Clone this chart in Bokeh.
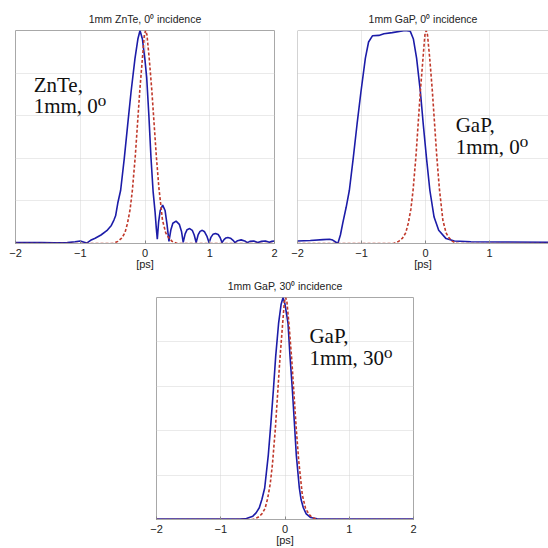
from bokeh.plotting import figure
from bokeh.models import Range1d, FixedTicker, Label, Span, Spacer
from bokeh.layouts import row, column
from bokeh.embed import file_html
from bokeh.resources import INLINE

# ---- data (time in ps, normalized amplitude) ----
znte_t = [-2.00, -1.80, -1.60, -1.40, -1.20, -1.08, -1.00, -0.94, -0.90, -0.84, -0.77, -0.68,
          -0.59, -0.52, -0.48, -0.454, -0.42, -0.376, -0.32, -0.268, -0.216, -0.155, -0.11, -0.077,
          -0.04, 0.0, 0.026, 0.06, 0.093, 0.125, 0.155, 0.175, 0.19,
          0.21, 0.235, 0.273, 0.31, 0.34, 0.37,
          0.40, 0.43, 0.48, 0.53, 0.565, 0.59,
          0.62, 0.65, 0.69, 0.73, 0.76, 0.79,
          0.82, 0.85, 0.885, 0.92, 0.955, 0.99,
          1.02, 1.05, 1.09, 1.13, 1.16, 1.19,
          1.22, 1.25, 1.28, 1.32, 1.36, 1.39,
          1.43, 1.485, 1.54, 1.58, 1.62, 1.68, 1.74, 1.80, 1.86, 1.92, 1.96, 2.00]
znte_v = [0.004, 0.005, 0.004, 0.003, 0.004, 0.008, 0.012, 0.006, 0.002, 0.015, 0.025, 0.040,
          0.060, 0.085, 0.110, 0.130, 0.190, 0.250, 0.400, 0.556, 0.710, 0.868, 0.960, 1.000,
          0.960, 0.860, 0.780, 0.600, 0.400, 0.245, 0.150, 0.070, 0.020,
          0.100, 0.155, 0.180, 0.155, 0.090, 0.010,
          0.065, 0.095, 0.105, 0.090, 0.055, 0.005,
          0.045, 0.065, 0.070, 0.062, 0.040, 0.005,
          0.040, 0.057, 0.062, 0.055, 0.035, 0.004,
          0.030, 0.043, 0.047, 0.042, 0.028, 0.004,
          0.018, 0.026, 0.028, 0.025, 0.015, 0.004,
          0.013, 0.017, 0.012, 0.004, 0.010, 0.012, 0.005, 0.010, 0.012, 0.006, 0.010, 0.012]

gap0_t = [-2.00, -1.80, -1.60, -1.50, -1.45, -1.40, -1.37, -1.33, -1.29, -1.24, -1.19, -1.13,
          -1.07, -1.01, -0.94, -0.89, -0.83, -0.73, -0.65, -0.52, -0.32, -0.24, -0.19, -0.14,
          -0.08, -0.036, 0.015, 0.067, 0.133, 0.205, 0.32, 0.45, 0.71, 1.20, 2.00]
gap0_v = [0.012, 0.014, 0.018, 0.020, 0.016, 0.006, 0.000, 0.040, 0.100, 0.170, 0.250, 0.400,
          0.560, 0.710, 0.870, 0.946, 0.975, 0.977, 0.985, 0.990, 1.000, 0.997, 0.960, 0.870,
          0.710, 0.560, 0.400, 0.250, 0.124, 0.062, 0.023, 0.012, 0.008, 0.007, 0.006]

gap30_t = [-2.00, -0.70, -0.60, -0.50, -0.45, -0.40, -0.36, -0.316, -0.26, -0.218, -0.18, -0.145,
           -0.10, -0.06, -0.03, 0.00, 0.047, 0.078, 0.114, 0.145, 0.176, 0.223, 0.25, 0.285,
           0.33, 0.40, 0.50, 0.60, 2.00]
gap30_v = [0.002, 0.002, 0.004, 0.015, 0.030, 0.053, 0.090, 0.142, 0.290, 0.440, 0.587, 0.735,
           0.883, 0.970, 1.000, 0.970, 0.883, 0.735, 0.587, 0.440, 0.290, 0.142, 0.090, 0.053,
           0.025, 0.009, 0.003, 0.002, 0.002]

# reference (input) pulse, red dashed
ref_t = [-2.00, -0.50, -0.47, -0.42, -0.36, -0.31, -0.27, -0.23, -0.195, -0.15, -0.115, -0.08,
         -0.04, -0.01, 0.01, 0.03, 0.065, 0.105, 0.14, 0.175, 0.215, 0.27, 0.32, 0.37, 0.42,
         0.47, 0.50, 2.00]
ref_v = [0.000, 0.000, 0.003, 0.010, 0.025, 0.050, 0.095, 0.160, 0.250, 0.410, 0.565, 0.720,
         0.870, 0.980, 1.000, 0.980, 0.870, 0.720, 0.565, 0.410, 0.260, 0.110, 0.050, 0.025, 0.010,
         0.003, 0.000, 0.000]

x_ticks = [-2, -1, 0, 1, 2]
y_grid = [0.2, 0.4, 0.6, 0.8]

titles = ["1mm ZnTe, 0\u2070 incidence", "1mm GaP, 0\u2070 incidence", "1mm GaP, 30\u2070 incidence"]

BLUE = "#1c1ca8"
RED = "#c0392b"
GRID = "#d4d4d4"
FRAME = "#a8a8a8"
SERIF = "'Liberation Serif', 'DejaVu Serif', serif"


def make_fig(title, w, h, bl, br, bt, bb, xend=2.0, outline=True):
    p = figure(width=w, height=h, x_range=Range1d(-2, xend), y_range=Range1d(0, 1),
               output_backend="svg", toolbar_location=None, title=title,
               min_border_left=bl, min_border_right=br, min_border_top=bt, min_border_bottom=bb)
    p.title.align = "center"
    p.title.text_font = "Liberation Sans"
    p.title.text_font_size = "10.5px"
    p.title.text_font_style = "normal"
    p.title.text_color = "#222222"
    p.title.standoff = 11
    p.outline_line_color = FRAME if outline else None
    p.xaxis.ticker = FixedTicker(ticks=x_ticks)
    p.xaxis.axis_label = "[ps]"
    p.xaxis.axis_label_text_font = "Liberation Sans"
    p.xaxis.axis_label_text_font_size = "11px"
    p.xaxis.axis_label_text_font_style = "normal"
    p.xaxis.axis_label_text_color = "#222222"
    p.xaxis.axis_label_standoff = -2
    p.xaxis.major_label_text_font = "Liberation Sans"
    p.xaxis.major_label_text_font_size = "11px"
    p.xaxis.major_label_text_color = "#222222"
    p.xaxis.major_label_standoff = 5
    p.xaxis.axis_line_color = FRAME
    p.xaxis.major_tick_line_color = "#888888"
    p.xaxis.major_tick_in = 3
    p.xaxis.major_tick_out = 0
    p.xaxis.minor_tick_line_color = None
    p.yaxis.visible = False
    p.xgrid.grid_line_color = GRID
    p.xgrid.grid_line_dash = "1 1"
    p.ygrid.ticker = FixedTicker(ticks=y_grid)
    p.ygrid.grid_line_color = GRID
    p.ygrid.grid_line_dash = "1 1"
    p.background_fill_color = "white"
    p.border_fill_color = "white"
    return p


def label(p, x, y, txt):
    p.add_layout(Label(x=x, y=y, text=txt, text_font=SERIF,
                       text_font_size="21px", text_color="#111111",
                       text_baseline="alphabetic"))


p1 = make_fig(titles[0], 285, 272, 15, 11, 30, 28)
p1.line(znte_t, znte_v, line_color=BLUE, line_width=1.6)
p1.line(ref_t, ref_v, line_color=RED, line_width=1.6, line_dash="3 2")
label(p1, -1.72, 0.742, "ZnTe,")
label(p1, -1.72, 0.644, "1mm, 0\u2070")

p2 = make_fig(titles[1], 263, 272, 12, 0, 30, 28, xend=1.92, outline=False)
p2.add_layout(Span(location=1, dimension="width", line_color=FRAME, line_width=1))
p2.add_layout(Span(location=-2, dimension="height", line_color=FRAME, line_width=1))
p2.line(gap0_t, gap0_v, line_color=BLUE, line_width=1.6)
p2.line(ref_t, ref_v, line_color=RED, line_width=1.6, line_dash="3 2")
label(p2, 0.47, 0.558, "GaP,")
label(p2, 0.47, 0.451, "1mm, 0\u2070")

p3 = make_fig(titles[2], 282, 276, 10, 15, 25, 26)
p3.line(gap30_t, gap30_v, line_color=BLUE, line_width=1.6)
p3.line(ref_t, ref_v, line_color=RED, line_width=1.6, line_dash="3 2")
label(p3, 0.38, 0.827, "GaP,")
label(p3, 0.38, 0.729, "1mm, 30\u2070")

layout = column(row(p1, p2), row(Spacer(width=146, height=276), p3))

open("out.html", "w").write(file_html(layout, INLINE))
